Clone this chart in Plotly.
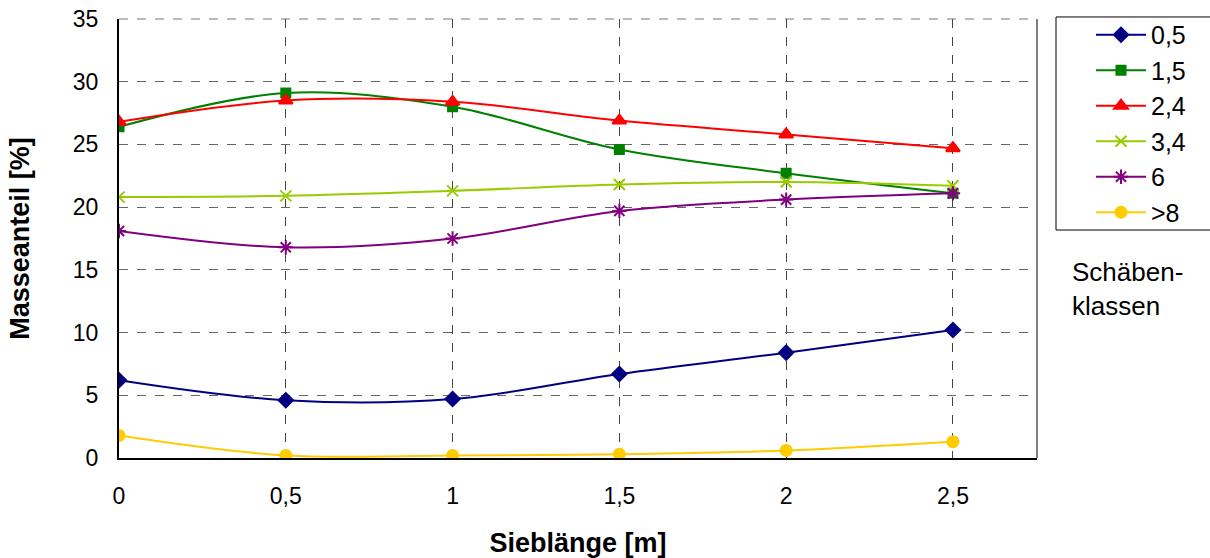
import plotly.graph_objects as go

siebl = [0, 0.5, 1, 1.5, 2, 2.5]
x_ticks = [0, 0.5, 1, 1.5, 2, 2.5]
x_tick_labels = ["0", "0,5", "1", "1,5", "2", "2,5"]
y_ticks = [0, 5, 10, 15, 20, 25, 30, 35]

klasse_05 = [6.2, 4.6, 4.7, 6.7, 8.4, 10.2]
klasse_15 = [26.4, 29.1, 28.0, 24.6, 22.7, 21.1]
klasse_24 = [26.8, 28.5, 28.4, 26.9, 25.8, 24.7]
klasse_34 = [20.8, 20.9, 21.3, 21.8, 22.0, 21.7]
klasse_6 = [18.1, 16.8, 17.5, 19.7, 20.6, 21.1]
klasse_8 = [1.8, 0.2, 0.2, 0.3, 0.6, 1.3]

series = [
    ("0,5", klasse_05, "#000080", "diamond", 11),
    ("1,5", klasse_15, "#008000", "square", 9),
    ("2,4", klasse_24, "#FF0000", "triangle-up", 12),
    ("3,4", klasse_34, "#99CC00", "x-thin-open", 11),
    ("6", klasse_6, "#800080", "asterisk-open", 12),
    (">8", klasse_8, "#FFCC00", "circle", 11),
]

FONT = "Arial, Liberation Sans, sans-serif"

fig = go.Figure()
for name, vals, col, sym, sz in series:
    fig.add_trace(go.Scatter(
        x=siebl, y=vals, name=name, mode="lines+markers",
        line=dict(color=col, width=2, shape="spline", smoothing=1),
        marker=dict(symbol=sym, size=sz, color=col, line=dict(color=col, width=2)),
        legendgroup=name,
    ))

# plot-area frame (right and top edges)
fig.add_shape(type="line", xref="paper", yref="paper", x0=1, x1=1, y0=0, y1=1,
              line=dict(color="#808080", width=2), layer="below")
fig.add_shape(type="line", xref="paper", yref="paper", x0=0, x1=1, y0=1, y1=1,
              line=dict(color="#777777", width=1, dash="dash"), layer="below")
# legend frame extending to the right edge
fig.add_shape(type="rect", xref="paper", yref="paper", x0=1.0207, x1=1.2, y0=0.5193, y1=1.0046,
              line=dict(color="black", width=1), fillcolor="rgba(0,0,0,0)", layer="above")

fig.add_annotation(text="Schäben-<br>klassen", xref="paper", yref="paper",
                   x=1.0355, y=0.462, xanchor="left", yanchor="top", showarrow=False,
                   align="left", font=dict(family=FONT, size=26, color="black"))

fig.update_layout(
    width=1210, height=558,
    margin=dict(l=119, r=173, t=19, b=100, autoexpand=False),
    paper_bgcolor="white", plot_bgcolor="white",
    font=dict(family=FONT, size=23, color="black"),
    showlegend=True,
    legend=dict(x=1.0207, y=1.016, xanchor="left", yanchor="top",
                borderwidth=0, bgcolor="rgba(0,0,0,0)",
                font=dict(size=25), tracegroupgap=0, indentation=35,
                itemwidth=50),
    xaxis=dict(range=[0, 2.752], tickvals=x_ticks, ticktext=x_tick_labels,
               showgrid=True, gridcolor="#444444", griddash="dash", gridwidth=1,
               showline=True, linecolor="black", linewidth=2, zeroline=False,
               ticks="", ticklabelstandoff=16, automargin=False,
               ticklabeloverflow="allow",
               title=dict(text="<b>Sieblänge [m]</b>", font=dict(size=27), standoff=27)),
    yaxis=dict(range=[0, 35], tickvals=y_ticks,
               showgrid=True, gridcolor="#666666", griddash="dash", gridwidth=1,
               showline=True, linecolor="black", linewidth=2, zeroline=False,
               ticks="", ticklabelstandoff=14, automargin=False,
               ticklabeloverflow="allow",
               title=dict(text="<b>Masseanteil [%]</b>", font=dict(size=27), standoff=35)),
)

fig.write_html("out.html", config={"displayModeBar": False},
               post_script="document.body.style.margin='0';")
